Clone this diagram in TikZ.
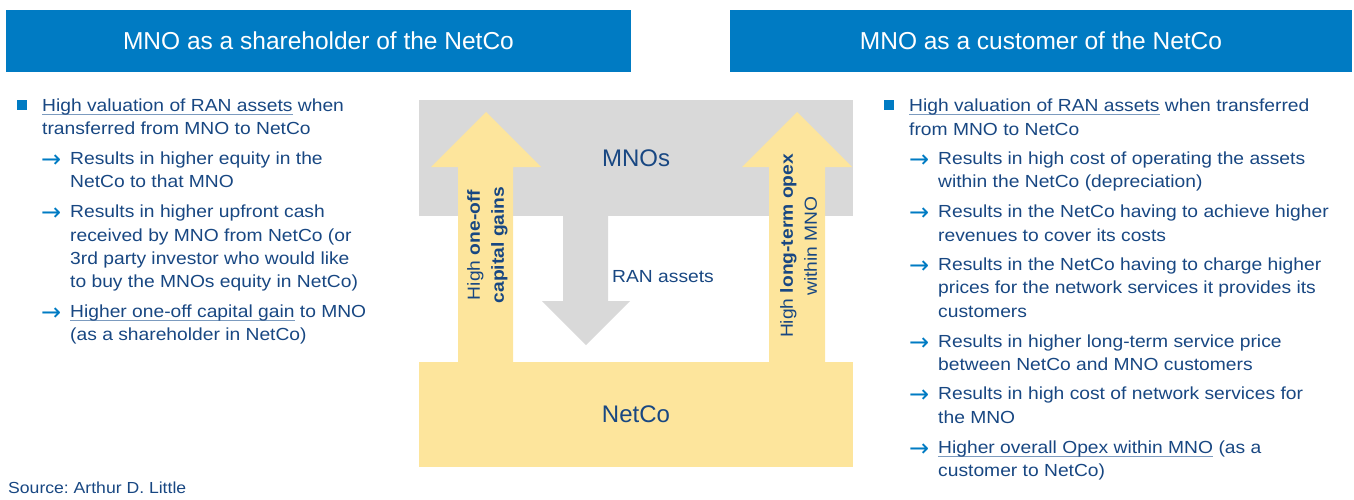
\documentclass[tikz,border=0pt]{standalone}
\usepackage{fontspec}
\setmainfont{Liberation Sans}[FakeStretch=1.1]
\newfontfamily\plainsans{Liberation Sans}
\newfontfamily\arrowfont{DejaVu Sans}
\frenchspacing
\definecolor{hdblue}{HTML}{007BC3}
\definecolor{tc}{HTML}{184782}
\definecolor{ulc}{HTML}{7C9BBF}
\definecolor{grayb}{HTML}{D9D9D9}
\definecolor{yel}{HTML}{FDE59C}
\newcommand\myul[1]{\sbox0{#1}\rlap{\color{ulc}\rule[-3.5pt]{\wd0}{0.8pt}}\usebox0}
\begin{document}
\begin{tikzpicture}[x=1pt,y=-1pt,
  body/.style={anchor=base west, inner sep=0pt, text=tc, font=\fontsize{17.5}{21}\selectfont},
  arr/.style={anchor=base west, inner sep=0pt, text=hdblue, font=\arrowfont\fontsize{24}{24}\selectfont, yshift=-3pt},
  hdr/.style={fill=hdblue, text=white, inner sep=0pt, minimum height=62pt, font=\plainsans\fontsize{24.5}{28}\selectfont},
  big/.style={text=tc, font=\plainsans\fontsize{24}{28}\selectfont, inner sep=0pt},
  vlab/.style={rotate=90, align=center, text=tc, inner sep=0pt, font=\fontsize{17.5}{24}\selectfont}
]
\useasboundingbox (0,0) rectangle (1354,499);
% headers
\node[hdr, minimum width=625pt] (hL) at (318.5,41) {MNO as a shareholder of the NetCo};
\node[hdr, minimum width=622pt] (hR) at (1041,41) {MNO as a customer of the NetCo};
% diagram blocks
\node[fill=grayb, minimum width=434pt, minimum height=116pt, big] (mnos) at (636,158) {MNOs};
\node[fill=yel, minimum width=434pt, minimum height=105pt, big] (netco) at (636,414.5) {NetCo};
% block arrows
\fill[yel] (458,362) -- (458,167) -- (431,167) -- (486,112) -- (541,167) -- (513,167) -- (513,362) -- cycle;
\fill[yel] (769,362) -- (769,167) -- (742,167) -- (797,112) -- (852,167) -- (825,167) -- (825,362) -- cycle;
\fill[grayb] (563,215) -- (563,301) -- (542,301) -- (586,345) -- (630,301) -- (608,301) -- (608,215) -- cycle;
\node[vlab] (capg) at (487.5,245) {High \textbf{one-off}\\\textbf{capital gains}};
\node[vlab] (opex) at (798.5,246) {High \textbf{long-term opex}\\within MNO};
\node[body] (ran) at (612,282) {RAN assets};
% left column
\fill[hdblue] (17,100) rectangle (27,110);
\node[body] (l1) at (42,111) {\myul{High valuation of RAN assets} when};
\node[body] (l2) at (42,134) {transferred from MNO to NetCo};
\node[arr] (la1) at (41,164) {→};
\node[body] (l3) at (70,164) {Results in higher equity in the};
\node[body] (l4) at (70,187) {NetCo to that MNO};
\node[arr] (la2) at (41,217) {→};
\node[body] (l5) at (70,217) {Results in higher upfront cash};
\node[body] (l6) at (70,241) {received by MNO from NetCo (or};
\node[body] (l7) at (70,264) {3rd party investor who would like};
\node[body] (l8) at (70,287) {to buy the MNOs equity in NetCo)};
\node[arr] (la3) at (41,317) {→};
\node[body] (l9) at (70,317) {\myul{Higher one-off capital gain} to MNO};
\node[body] (l10) at (70,340) {(as a shareholder in NetCo)};
% right column
\fill[hdblue] (884,100) rectangle (894,110);
\node[body] (r1) at (909,111) {\myul{High valuation of RAN assets} when transferred};
\node[body] (r2) at (909,135) {from MNO to NetCo};
\node[arr] (ra1) at (909,164) {→};
\node[body] (r3) at (938,164) {Results in high cost of operating the assets};
\node[body] (r4) at (938,187) {within the NetCo (depreciation)};
\node[arr] (ra2) at (909,217) {→};
\node[body] (r5) at (938,217) {Results in the NetCo having to achieve higher};
\node[body] (r6) at (938,241) {revenues to cover its costs};
\node[arr] (ra3) at (909,270) {→};
\node[body] (r7) at (938,270) {Results in the NetCo having to charge higher};
\node[body] (r8) at (938,293) {prices for the network services it provides its};
\node[body] (r9) at (938,317) {customers};
\node[arr] (ra4) at (909,347) {→};
\node[body] (r10) at (938,347) {Results in higher long-term service price};
\node[body] (r11) at (938,370) {between NetCo and MNO customers};
\node[arr] (ra5) at (909,399) {→};
\node[body] (r12) at (938,399) {Results in high cost of network services for};
\node[body] (r13) at (938,423) {the MNO};
\node[arr] (ra6) at (909,453) {→};
\node[body] (r14) at (938,453) {\myul{Higher overall Opex within MNO} (as a};
\node[body] (r15) at (938,476) {customer to NetCo)};
% source
\node[body, font=\fontsize{16}{19}\selectfont] (src) at (8,493) {Source: Arthur D. Little};
\end{tikzpicture}
\end{document}
